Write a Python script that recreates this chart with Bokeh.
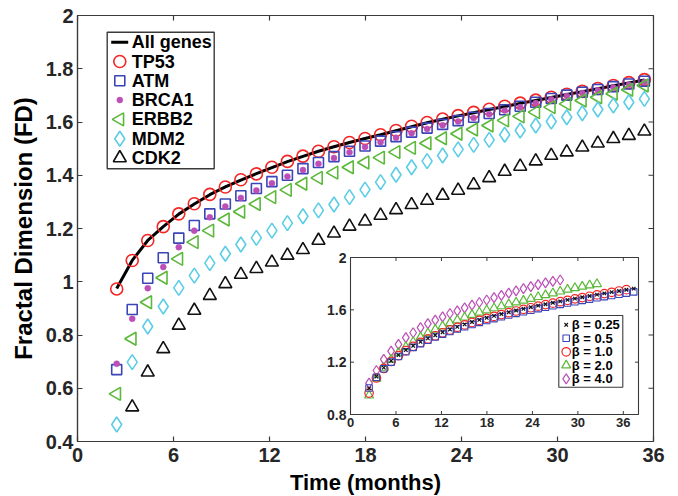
import math
from bokeh.plotting import figure
from bokeh.models import Range1d, FixedTicker
from bokeh.core.properties import value
from bokeh.embed import file_html
from bokeh.resources import INLINE

# ---------------- data (main panel) ----------------
months = [2.45, 3.42, 4.39, 5.36, 6.33, 7.30, 8.27, 9.24, 10.21, 11.18, 12.15, 13.12,
          14.09, 15.06, 16.03, 17.00, 17.97, 18.94, 19.91, 20.88, 21.85, 22.82, 23.79,
          24.76, 25.73, 26.70, 27.67, 28.64, 29.61, 30.58, 31.55, 32.52, 33.49, 34.46, 35.43]

all_genes = [0.975, 1.080, 1.155, 1.207, 1.254, 1.292, 1.327, 1.356, 1.382, 1.406, 1.429, 1.451,
             1.471, 1.490, 1.507, 1.523, 1.538, 1.552, 1.567, 1.582, 1.597, 1.610, 1.623,
             1.635, 1.647, 1.658, 1.670, 1.681, 1.692, 1.703, 1.714, 1.725, 1.736, 1.747, 1.758]
tp53 = [0.973, 1.080, 1.155, 1.207, 1.255, 1.293, 1.328, 1.356, 1.383, 1.405, 1.430, 1.452,
        1.472, 1.490, 1.507, 1.523, 1.538, 1.552, 1.568, 1.584, 1.598, 1.611, 1.624,
        1.636, 1.648, 1.659, 1.671, 1.682, 1.693, 1.704, 1.715, 1.726, 1.737, 1.748, 1.759]
atm = [0.670, 0.896, 1.013, 1.090, 1.164, 1.211, 1.255, 1.292, 1.323, 1.350, 1.376, 1.400,
       1.425, 1.448, 1.470, 1.490, 1.510, 1.528, 1.545, 1.562, 1.577, 1.591, 1.605,
       1.618, 1.632, 1.646, 1.659, 1.674, 1.688, 1.701, 1.712, 1.722, 1.733, 1.743, 1.753]
brca1 = [0.692, 0.861, 0.976, 1.055, 1.130, 1.192, 1.242, 1.283, 1.315, 1.343, 1.370, 1.395,
         1.420, 1.443, 1.465, 1.486, 1.506, 1.524, 1.541, 1.558, 1.574, 1.588, 1.602,
         1.615, 1.629, 1.643, 1.656, 1.671, 1.685, 1.698, 1.709, 1.719, 1.730, 1.740, 1.750]
erbb2 = [0.579, 0.786, 0.923, 1.015, 1.086, 1.149, 1.192, 1.234, 1.263, 1.292, 1.318, 1.345,
         1.368, 1.390, 1.410, 1.430, 1.448, 1.466, 1.487, 1.503, 1.520, 1.539, 1.556,
         1.572, 1.587, 1.606, 1.621, 1.637, 1.656, 1.668, 1.681, 1.693, 1.706, 1.721, 1.737]
mdm2 = [0.464, 0.698, 0.832, 0.907, 0.977, 1.023, 1.070, 1.105, 1.140, 1.165, 1.192, 1.220,
        1.246, 1.268, 1.290, 1.318, 1.346, 1.374, 1.402, 1.430, 1.453, 1.474, 1.497,
        1.514, 1.533, 1.552, 1.568, 1.587, 1.602, 1.618, 1.633, 1.647, 1.662, 1.674, 1.687]
# CDK2 starts at the second time point (first one lies below the axis)
cdk2_months = months[1:]
cdk2 = [0.529, 0.660, 0.748, 0.836, 0.892, 0.948, 0.992, 1.027, 1.049, 1.073, 1.099,
        1.120, 1.155, 1.182, 1.208, 1.227, 1.249, 1.270, 1.289, 1.305, 1.324, 1.343,
        1.364, 1.390, 1.414, 1.433, 1.453, 1.474, 1.487, 1.505, 1.520, 1.537, 1.549, 1.565]

x_ticks = [0, 6, 12, 18, 24, 30, 36]
x_tick_labels = ["0", "6", "12", "18", "24", "30", "36"]
y_ticks = [0.4, 0.6, 0.8, 1.0, 1.2, 1.4, 1.6, 1.8, 2.0]
y_tick_labels = ["0.4", "0.6", "0.8", "1", "1.2", "1.4", "1.6", "1.8", "2"]
legend_labels = ["All genes", "TP53", "ATM", "BRCA1", "ERBB2", "MDM2", "CDK2"]

# ---------------- data (inset, beta sensitivity) ----------------
inset_months = months + [36.40, 37.37]
beta_025 = [1.000, 1.090, 1.158, 1.210, 1.254, 1.292, 1.325, 1.355, 1.382, 1.406, 1.429, 1.450,
            1.470, 1.489, 1.507, 1.523, 1.539, 1.554, 1.568, 1.582, 1.595, 1.608, 1.620,
            1.632, 1.643, 1.654, 1.665, 1.676, 1.686, 1.696, 1.706, 1.716, 1.726, 1.735,
            1.744, 1.753, 1.762]
beta_05 = [1.002, 1.085, 1.150, 1.200, 1.243, 1.280, 1.313, 1.342, 1.368, 1.392, 1.414, 1.434,
           1.453, 1.471, 1.488, 1.504, 1.519, 1.533, 1.547, 1.560, 1.573, 1.585, 1.597,
           1.609, 1.620, 1.631, 1.642, 1.652, 1.662, 1.672, 1.682, 1.692, 1.701, 1.710,
           1.719, 1.728, 1.737]
beta_10 = [0.964, 1.079, 1.152, 1.205, 1.250, 1.288, 1.321, 1.351, 1.378, 1.402, 1.425, 1.446,
           1.466, 1.485, 1.503, 1.519, 1.535, 1.550, 1.564, 1.578, 1.591, 1.604, 1.616,
           1.628, 1.640, 1.651, 1.662, 1.673, 1.684, 1.694, 1.704, 1.714, 1.724, 1.734,
           1.744, 1.754]
beta_20 = [0.946, 1.075, 1.158, 1.220, 1.272, 1.316, 1.355, 1.390, 1.421, 1.449, 1.475, 1.499,
           1.521, 1.542, 1.562, 1.580, 1.597, 1.613, 1.628, 1.643, 1.657, 1.671, 1.685,
           1.699, 1.713, 1.727, 1.741, 1.755, 1.767, 1.778, 1.788, 1.798]
beta_40 = [1.040, 1.136, 1.221, 1.285, 1.336, 1.387, 1.425, 1.464, 1.495, 1.521, 1.546, 1.572,
           1.592, 1.615, 1.636, 1.656, 1.675, 1.693, 1.710, 1.728, 1.745, 1.762, 1.778,
           1.793, 1.806, 1.818, 1.828]
inset_x_ticks = [0, 6, 12, 18, 24, 30, 36]
inset_x_tick_labels = ["0", "6", "12", "18", "24", "30", "36"]
inset_y_ticks = [0.8, 1.2, 1.6, 2.0]
inset_y_tick_labels = ["0.8", "1.2", "1.6", "2"]
inset_legend_labels = ["β = 0.25", "β = 0.5", "β = 1.0", "β = 2.0", "β = 4.0"]

# ---------------- styles & layout ----------------
FONT = "Liberation Sans"
AX = "#3a3a3a"
TXT = "#262626"
RED, BLUE, MAG, GREEN, CYAN, BLK = "#f42626", "#3b45b8", "#bb4fb6", "#5cb83a", "#5ccde6", "#111111"

FW, FH = 576, 426
XLIM, YLIM = (0, 36), (0.4, 2.0)
INSET_XLIM, INSET_YLIM = (0, 38), (0.8, 2.0)
IN_L, IN_B, IN_W, IN_H = 273, 27, 288, 157  # inset box inside frame, pixels
TICK = 5  # main tick length, pixels

p = figure(frame_width=FW, frame_height=FH,
           x_range=Range1d(*XLIM), y_range=Range1d(*YLIM),
           output_backend="svg", toolbar_location=None,
           min_border_left=77, min_border_right=25, min_border_top=15, min_border_bottom=55,
           background_fill_color="white", border_fill_color="white")
p.grid.visible = False
p.outline_line_color = AX
p.outline_line_width = 1.2

xa, ya = p.below[0], p.left[0]
xa.ticker = FixedTicker(ticks=x_ticks)
ya.ticker = FixedTicker(ticks=y_ticks)
xa.major_label_overrides = dict(zip(x_ticks, x_tick_labels))
ya.major_label_overrides = dict(zip(y_ticks, y_tick_labels))
xa.axis_label = "Time (months)"
ya.axis_label = "Fractal Dimension (FD)"
for ax in (xa, ya):
    ax.major_tick_in = TICK
    ax.major_tick_out = 0
    ax.minor_tick_line_color = None
    ax.axis_line_color = AX
    ax.axis_line_width = 1.2
    ax.major_tick_line_color = AX
    ax.major_tick_line_width = 1.2
    ax.major_label_text_font = FONT
    ax.major_label_text_font_style = "bold"
    ax.major_label_text_font_size = "20px"
    ax.major_label_text_color = TXT
    ax.axis_label_text_font = FONT
    ax.axis_label_text_font_style = "bold"
    ax.axis_label_text_color = "black"
xa.axis_label_text_font_size = "22px"
ya.axis_label_text_font_size = "24px"
xa.major_label_standoff = 6
xa.axis_label_standoff = 5
ya.major_label_standoff = 4
ya.axis_label_standoff = 6

# ticks on the top and right edges of the box (inward), from the same tick arrays
dy = TICK * (YLIM[1] - YLIM[0]) / FH
dx = TICK * (XLIM[1] - XLIM[0]) / FW
p.segment(x0=x_ticks, y0=[YLIM[1]] * len(x_ticks), x1=x_ticks, y1=[YLIM[1] - dy] * len(x_ticks),
          line_color=AX, line_width=1.2)
p.segment(x0=[XLIM[1]] * len(y_ticks), y0=y_ticks, x1=[XLIM[1] - dx] * len(y_ticks), y1=y_ticks,
          line_color=AX, line_width=1.2)

# ---------------- main series ----------------
p.line(months, all_genes, line_color="black", line_width=3)
p.scatter(months, tp53, marker="circle", size=12, line_color=RED, fill_color=None, line_width=1.6)
p.scatter(months, atm, marker="square", size=10, line_color=BLUE, fill_color=None, line_width=1.6)
p.scatter(months, brca1, marker="circle", size=6, line_color=MAG, fill_color=MAG, line_width=0.5)
p.scatter(months, erbb2, marker="triangle", angle=90, angle_units="deg", size=13,
          line_color=GREEN, fill_color=None, line_width=1.6)
p.scatter(months, mdm2, marker="diamond", size=15, line_color=CYAN, fill_color=None, line_width=1.6)
p.scatter(cdk2_months, cdk2, marker="triangle", size=13, line_color=BLK, fill_color=None, line_width=1.6)

# ---------------- inset (extra ranges mapped to the inset box) ----------------
sx = (INSET_XLIM[1] - INSET_XLIM[0]) / IN_W
sy = (INSET_YLIM[1] - INSET_YLIM[0]) / IN_H
p.extra_x_ranges["ix"] = Range1d(INSET_XLIM[0] - IN_L * sx, INSET_XLIM[1] + (FW - IN_L - IN_W) * sx)
p.extra_y_ranges["iy"] = Range1d(INSET_YLIM[0] - IN_B * sy, INSET_YLIM[1] + (FH - IN_B - IN_H) * sy)
P = dict(x_range_name="ix", y_range_name="iy")

p.quad(left=[INSET_XLIM[0]], right=[INSET_XLIM[1]], bottom=[INSET_YLIM[0]], top=[INSET_YLIM[1]],
       fill_color="white", line_color=AX, line_width=1.1, **P)
tlx, tly = 3.5 * sx, 3.5 * sy
nx, ny = len(inset_x_ticks), len(inset_y_ticks)
p.segment(x0=inset_x_ticks, y0=[INSET_YLIM[0]] * nx, x1=inset_x_ticks, y1=[INSET_YLIM[0] + tly] * nx,
          line_color=AX, line_width=1, **P)
p.segment(x0=inset_x_ticks, y0=[INSET_YLIM[1]] * nx, x1=inset_x_ticks, y1=[INSET_YLIM[1] - tly] * nx,
          line_color=AX, line_width=1, **P)
p.segment(x0=[INSET_XLIM[0]] * ny, y0=inset_y_ticks, x1=[INSET_XLIM[0] + tlx] * ny, y1=inset_y_ticks,
          line_color=AX, line_width=1, **P)
p.segment(x0=[INSET_XLIM[1]] * ny, y0=inset_y_ticks, x1=[INSET_XLIM[1] - tlx] * ny, y1=inset_y_ticks,
          line_color=AX, line_width=1, **P)
p.text(x=inset_x_ticks, y=[INSET_YLIM[0] - 3 * sy] * nx, text=inset_x_tick_labels,
       text_align="center", text_baseline="top", text_font=value(FONT), text_font_style="bold",
       text_font_size="13px", text_color=TXT, **P)
p.text(x=[INSET_XLIM[0] - 4 * sx] * ny, y=inset_y_ticks, text=inset_y_tick_labels,
       text_align="right", text_baseline="middle", text_font=value(FONT), text_font_style="bold",
       text_font_size="14px", text_color=TXT, **P)

inset_styles = [
    dict(marker="x", size=5, line_color=BLK, fill_color=None, line_width=1.2),
    dict(marker="square", size=6.5, line_color=BLUE, fill_color=None, line_width=1.1),
    dict(marker="circle", size=8.5, line_color=RED, fill_color=None, line_width=1.2),
    dict(marker="triangle", size=9, line_color=GREEN, fill_color=None, line_width=1.2),
    dict(marker="diamond", size=10, line_color=MAG, fill_color=None, line_width=1.2),
]
inset_series = [beta_025, beta_05, beta_10, beta_20, beta_40]
for i in (4, 3, 2, 1, 0):
    ys = inset_series[i]
    p.scatter(inset_months[:len(ys)], ys, **inset_styles[i], **P)

# ---------------- legends (drawn in frame pixel space) ----------------
p.extra_x_ranges["lx"] = Range1d(0, FW)
p.extra_y_ranges["ly"] = Range1d(0, FH)
L = dict(x_range_name="lx", y_range_name="ly")

LEG_X, LEG_TOP, LEG_W, LEG_H, LEG_ROW = 29.7, 16.7, 107, 136.6, 19.3
p.quad(left=[LEG_X], right=[LEG_X + LEG_W], top=[FH - LEG_TOP], bottom=[FH - LEG_TOP - LEG_H],
       fill_color="white", line_color=AX, line_width=1.4, **L)
main_styles = [
    None,
    dict(marker="circle", size=12, line_color=RED, fill_color=None, line_width=1.6),
    dict(marker="square", size=10, line_color=BLUE, fill_color=None, line_width=1.6),
    dict(marker="circle", size=6, line_color=MAG, fill_color=MAG, line_width=0.5),
    dict(marker="triangle", angle=90, angle_units="deg", size=13, line_color=GREEN, fill_color=None, line_width=1.6),
    dict(marker="diamond", size=15, line_color=CYAN, fill_color=None, line_width=1.6),
    dict(marker="triangle", size=13, line_color=BLK, fill_color=None, line_width=1.6),
]
row_y = [FH - LEG_TOP - 10 - i * LEG_ROW for i in range(len(legend_labels))]
p.segment(x0=[LEG_X + 4], y0=[row_y[0]], x1=[LEG_X + 21], y1=[row_y[0]], line_color="black", line_width=3, **L)
for i, st in enumerate(main_styles):
    if st is not None:
        p.scatter([LEG_X + 12.6], [row_y[i]], **st, **L)
p.text(x=[LEG_X + 24.5] * len(legend_labels), y=row_y, text=legend_labels, text_align="left",
       text_baseline="middle", text_font=value(FONT), text_font_style="bold",
       text_font_size="18px", text_color="black", **L)

ILEG_X, ILEG_TOP, ILEG_W, ILEG_H, ILEG_ROW = 481.3, 300, 64, 71.7, 13.5
p.quad(left=[ILEG_X], right=[ILEG_X + ILEG_W], top=[FH - ILEG_TOP], bottom=[FH - ILEG_TOP - ILEG_H],
       fill_color="white", line_color=AX, line_width=1.1, **L)
irow_y = [FH - ILEG_TOP - 9.3 - i * ILEG_ROW for i in range(len(inset_legend_labels))]
for i, st in enumerate(inset_styles):
    p.scatter([ILEG_X + 7.4], [irow_y[i]], **st, **L)
p.text(x=[ILEG_X + 13] * len(inset_legend_labels), y=irow_y, text=inset_legend_labels,
       text_align="left", text_baseline="middle", text_font=value(FONT), text_font_style="bold",
       text_font_size="13px", text_color="black", **L)

open("out.html", "w").write(file_html(p, INLINE))
